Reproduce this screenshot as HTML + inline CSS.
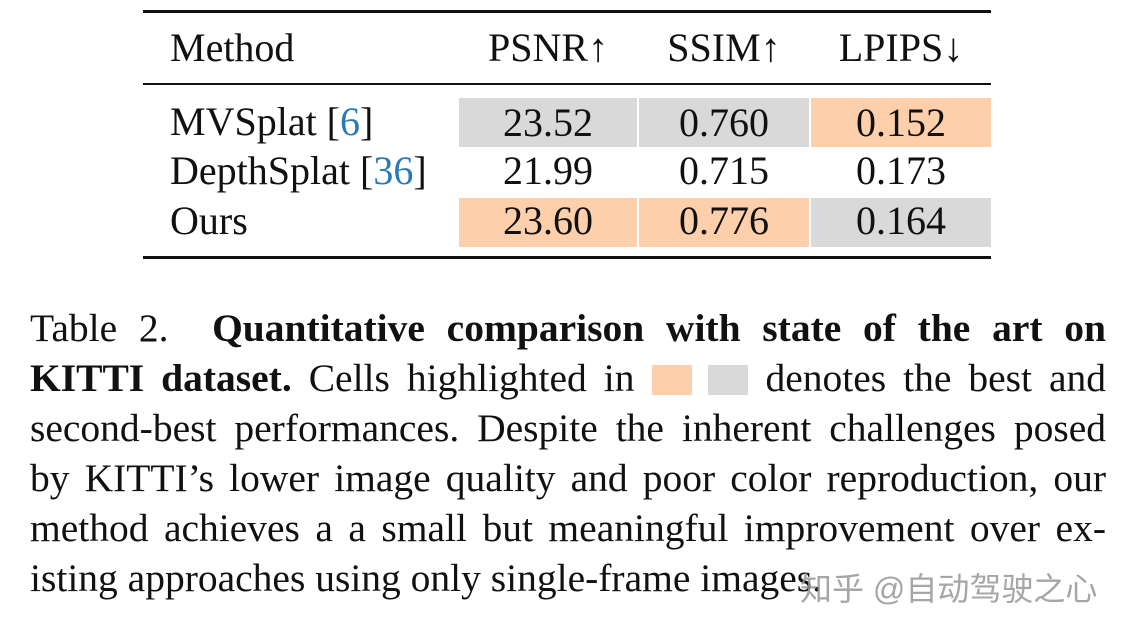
<!DOCTYPE html>
<html><head><meta charset="utf-8"><style>
body{margin:0;width:1134px;height:632px;background:#fff;position:relative;overflow:hidden;font-family:"Liberation Serif",serif;color:#111}
.a{position:absolute}
.rule{position:absolute;left:143px;width:848px;background:#111}
.cell{position:absolute;height:50px;line-height:50px;text-align:center;font-size:40px}
.m{position:absolute;left:170px;height:50px;line-height:50px;font-size:40px}
.cap{position:absolute;left:30px;width:1076px;height:50px;line-height:50px;font-size:39.5px;text-align:justify;text-align-last:justify;white-space:nowrap}
.cap.last{text-align-last:left}
.cite{color:#2a7ab8}
.g{background:#d9d9d9}.o{background:#fdcfab}
</style></head><body>
<div class="rule" style="top:10px;height:3px"></div>
<div class="rule" style="top:83px;height:2px"></div>
<div class="rule" style="top:256px;height:3px"></div>

<div class="m" style="top:23px">Method</div>
<div class="cell" style="top:23px;left:459px;width:178px">PSNR↑</div>
<div class="cell" style="top:23px;left:639px;width:170px">SSIM↑</div>
<div class="cell" style="top:23px;left:811px;width:180px">LPIPS↓</div>

<div class="m" style="top:97px">MVSplat [<span class="cite">6</span>]</div>
<div class="cell g" style="top:98px;left:459px;width:178px;height:49px">23.52</div>
<div class="cell g" style="top:98px;left:639px;width:170px;height:49px">0.760</div>
<div class="cell o" style="top:98px;left:811px;width:180px;height:49px">0.152</div>

<div class="m" style="top:146px">DepthSplat [<span class="cite">36</span>]</div>
<div class="cell" style="top:146px;left:459px;width:178px">21.99</div>
<div class="cell" style="top:146px;left:639px;width:170px">0.715</div>
<div class="cell" style="top:146px;left:811px;width:180px">0.173</div>

<div class="m" style="top:196px">Ours</div>
<div class="cell o" style="top:198px;left:459px;width:178px;height:49px;line-height:46px">23.60</div>
<div class="cell o" style="top:198px;left:639px;width:170px;height:49px;line-height:46px">0.776</div>
<div class="cell g" style="top:198px;left:811px;width:180px;height:49px;line-height:46px">0.164</div>

<div class="cap" style="top:303px">Table 2. &nbsp;<b>Quantitative comparison with state of the art on</b></div>
<div class="cap" style="top:353px"><b>KITTI dataset.</b> Cells highlighted in <span style="display:inline-block;width:40px;height:30px;background:#fdcfab;vertical-align:-4px"></span> <span style="display:inline-block;width:40px;height:30px;background:#d9d9d9;vertical-align:-4px"></span> denotes the best and</div>
<div class="cap" style="top:403px">second-best performances. Despite the inherent challenges posed</div>
<div class="cap" style="top:453px">by KITTI’s lower image quality and poor color reproduction, our</div>
<div class="cap" style="top:503px">method achieves a a small but meaningful improvement over ex-</div>
<div class="cap last" style="top:553px">isting approaches using only single-frame images.</div>

<div class="a" style="left:800px;top:564px;font-family:'Liberation Sans','Noto Sans CJK SC',sans-serif;font-size:32px;color:rgba(150,150,150,0.85)">知乎 @自动驾驶之心</div>
</body></html>
